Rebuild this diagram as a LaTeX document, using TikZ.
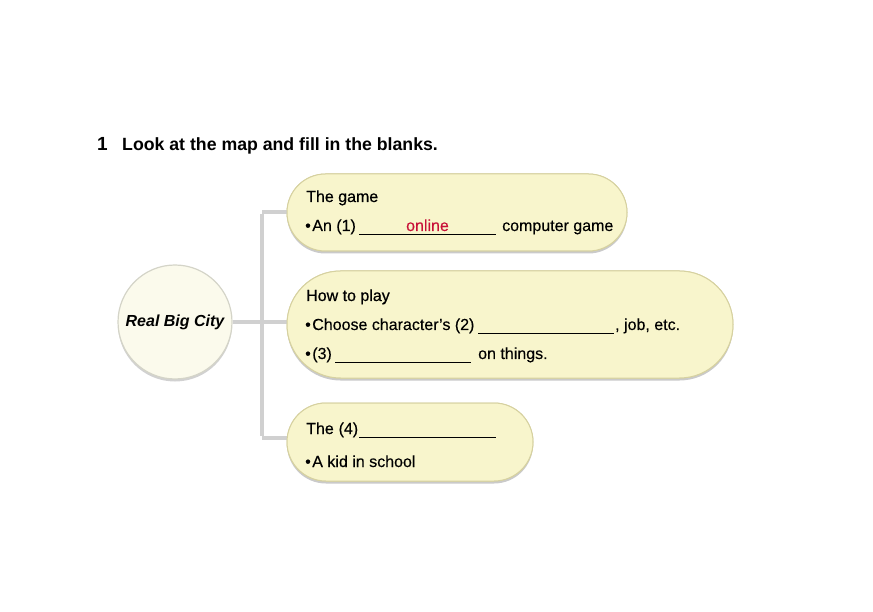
\documentclass[tikz,border=0pt]{standalone}
\usepackage{fontspec}
\setmainfont{Liberation Sans}
\newfontfamily\medfont{Liberation Sans}[FakeBold=0.6]
\newfontfamily\bodyfont{Liberation Sans}[FakeBold=0.25]
\usetikzlibrary{shapes.misc,shadows}
\definecolor{boxfill}{RGB}{248,245,204}
\definecolor{boxedge}{RGB}{214,209,160}
\definecolor{circfill}{RGB}{251,250,236}
\definecolor{circedge}{RGB}{212,212,200}
\definecolor{linkgray}{RGB}{208,208,208}
\definecolor{ansred}{RGB}{200,16,56}
\tikzset{
  pillbody/.style={rounded rectangle, draw=boxedge, line width=1pt, fill=boxfill, inner sep=0pt},
  pill/.style={pillbody,
    drop shadow={shadow xshift=0pt, shadow yshift=-2.5pt, opacity=0.35, fill=black!60}},
  hub/.style={circle, draw=circedge, line width=1.2pt, fill=circfill,
    drop shadow={shadow xshift=0pt, shadow yshift=-2.5pt, opacity=0.3, fill=black!60},
    minimum size=114pt, inner sep=0pt, font=\fontsize{16}{19}\selectfont\bfseries\itshape},
  txt/.style={anchor=base west, inner sep=0pt, font=\fontsize{16}{19}\selectfont\bodyfont},
  head/.style={anchor=base west, inner sep=0pt, font=\fontsize{16}{19}\selectfont\medfont},
  link/.style={draw=linkgray, line width=4pt},
  blank/.style={draw=black, line width=0.8pt}
}
\begin{document}
\begin{tikzpicture}[x=1pt,y=-1pt]
\useasboundingbox (0,0) rectangle (873,612);
% title
\node[anchor=base west, inner sep=0pt, font=\fontsize{19}{21}\selectfont\bfseries] (num) at (97,151) {1};
\node[anchor=base west, inner sep=0pt, font=\fontsize{17.7}{21}\selectfont\bfseries] (title) at (122,151) {Look at the map and fill in the blanks.};
% connectors (behind)
\coordinate (top) at (262,212);
\coordinate (bot) at (262,438);
\draw[link] ([yshift=-2pt]top) -- ([yshift=2pt]bot);
% boxes
\node[pill, minimum width=340pt, minimum height=77pt] (b1) at (457,212.5) {};
\node[pill, minimum width=446pt, minimum height=107pt] (b2) at (510,324.5) {};
\node[pill, minimum width=246pt, minimum height=78pt] (b3) at (410,442) {};
\node[hub] (c) at (175,322) {Real Big City};
\draw[link] (c.east) -- (c.east -| b2.west);
\draw[link] (top) -- (top -| b1.west);
\draw[link] (bot) -- (bot -| b3.west);
% redraw boxes over connector ends
\node[pillbody, minimum width=340pt, minimum height=77pt] (b1f) at (457,212.5) {};
\node[pillbody, minimum width=446pt, minimum height=107pt] (b2f) at (510,324.5) {};
\node[pillbody, minimum width=246pt, minimum height=78pt] (b3f) at (410,442) {};
% box 1 text
\node[head] (h1) at (306,202) {The game};
\node[txt] (l1a) at (305,231) {•\hspace{1.5pt}An (1)};
\draw[blank] (359,234) -- (496,234);
\node[txt, anchor=base, text=ansred] (ans1) at (427.5,231) {online};
\node[txt] (l1b) at (502,231) {computer game};
% box 2 text
\node[head] (h2) at (306,301) {How to play};
\node[txt] (l2a) at (305,330) {•\hspace{1.5pt}Choose character’s (2)};
\draw[blank] (478,333) -- (614,333);
\node[txt] (l2b) at (615,330) {, job, etc.};
\node[txt] (l3a) at (305,359) {•\hspace{1.5pt}(3)};
\draw[blank] (335,362) -- (471,362);
\node[txt] (l3b) at (478,359) {on things.};
% box 3 text
\node[head] (h3) at (306,434) {The};
\node[txt] (h3b) at (h3.base east) {\ (4)};
\draw[blank] (359,437) -- (496,437);
\node[txt] (l4a) at (305,467) {•\hspace{1.5pt}A kid in school};
\end{tikzpicture}
\end{document}
